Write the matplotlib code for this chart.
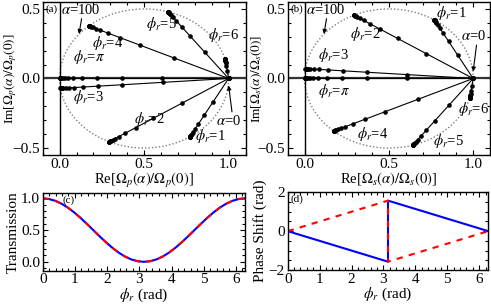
import numpy as np
import matplotlib
matplotlib.use("Agg")
import matplotlib.pyplot as plt
from matplotlib.ticker import MultipleLocator

plt.rcParams["font.family"] = ["Liberation Serif", "DejaVu Serif"]
plt.rcParams["mathtext.fontset"] = "stix"
plt.rcParams["font.size"] = 11

# phi_r values of the traced lines
phis = ["1", "2", "3", "pi", "4", "5", "6"]
# alpha = 100 end points of Omega_p(alpha)/Omega_p(0) (panel a)
end_re = [0.770, 0.292, 0.005, 0.000, 0.173, 0.642, 0.980]
end_im_p = [-0.421, -0.455, -0.071, 0.000, 0.378, 0.479, 0.140]
# panel b mirrors the imaginary part
end_im_s = [0.421, 0.455, 0.071, 0.000, -0.378, -0.479, -0.140]
# relative distance of the dots from the alpha=100 end (alpha = 0, 1, 2, ...)
dot_frac = [1.0, 0.607, 0.368, 0.223, 0.135, 0.082, 0.050, 0.030, 0.018,
            0.011, 0.007, 0.004, 0.002, 0.001, 0.0]

# panel c: transmission vs phi_r
phi_c = np.linspace(0, 2 * np.pi, 33)
trans = [1.0, 0.9904, 0.9619, 0.9157, 0.8536, 0.7778, 0.6913, 0.5975, 0.5,
         0.4025, 0.3087, 0.2222, 0.1464, 0.0843, 0.0381, 0.0096, 0.0,
         0.0096, 0.0381, 0.0843, 0.1464, 0.2222, 0.3087, 0.4025, 0.5,
         0.5975, 0.6913, 0.7778, 0.8536, 0.9157, 0.9619, 0.9904, 1.0]

# panel d: phase shift (rad)
phi_d = [0, np.pi, np.pi, 2 * np.pi]
shift_p = [0, -1.571, 1.571, 0]
shift_s = [0, 1.571, -1.571, 0]

fig = plt.figure(figsize=(4.91, 3.06), dpi=100)
ax_a = fig.add_axes([0.087, 0.4935, 0.413, 0.50])
ax_b = fig.add_axes([0.586, 0.4935, 0.412, 0.50])
ax_c = fig.add_axes([0.087, 0.1154, 0.412, 0.2527])
ax_d = fig.add_axes([0.586, 0.1176, 0.4085, 0.254])


def style(ax, xmaj, xmin, ymaj, ymin):
    ax.xaxis.set_major_locator(MultipleLocator(xmaj))
    ax.xaxis.set_minor_locator(MultipleLocator(xmin))
    ax.yaxis.set_major_locator(MultipleLocator(ymaj))
    ax.yaxis.set_minor_locator(MultipleLocator(ymin))
    ax.tick_params(which="both", direction="in", top=True, right=True,
                   width=0.8, labelsize=11, pad=2)
    ax.tick_params(which="major", length=3.5)
    ax.tick_params(which="minor", length=2)
    for s in ax.spines.values():
        s.set_linewidth(1.0)


def circle_panel(ax, end_im, letter, sub, labels):
    t = np.linspace(0, 2 * np.pi, 200)
    ax.plot(0.5 + 0.5 * np.cos(t), 0.5 * np.sin(t), ls=(0, (1, 1.5)),
            color="gray", lw=1.0)
    ax.axhline(0, color="#333333", lw=1.6)
    ax.axvline(0, color="black", lw=1.0)
    f = np.array(dot_frac)
    for xr, yi in zip(end_re, end_im):
        xs = xr + f * (1 - xr)
        ys = yi + f * (0 - yi)
        ax.plot(xs, ys, "-o", color="black", lw=0.8, ms=2.3)
    ax.set_xlim(-0.1, 1.1)
    ax.set_ylim(-0.55, 0.55)
    style(ax, 0.5, 0.1, 0.5, 0.1)
    ax.set_xlabel(r"Re[$\Omega_{%s}(\alpha)/\Omega_{%s}(0)$]" % (sub, sub),
                  labelpad=0, fontsize=10.5)
    ax.set_ylabel(r"Im[$\Omega_{%s}(\alpha)/\Omega_{%s}(0)$]" % (sub, sub),
                  fontsize=9.5)
    ax.yaxis.set_label_coords(-0.118, 0.5)
    ax.text(0.012, 0.985, letter, transform=ax.transAxes, fontsize=8,
            va="top", ha="left")
    for txt, x, y in labels:
        ax.text(x, y, txt, fontsize=10.5, ha="left", va="center")


labels_a = [(r"$\phi_r$=5", 0.51, 0.39), (r"$\phi_r$=4", 0.19, 0.255),
            (r"$\phi_r$=6", 0.88, 0.31), (r"$\phi_r$=$\pi$", 0.08, 0.155),
            (r"$\phi_r$=3", 0.08, -0.13), (r"$\phi_r$=2", 0.44, -0.29),
            (r"$\phi_r$=1", 0.80, -0.415)]
labels_b = [(r"$\phi_r$=1", 0.78, 0.47), (r"$\phi_r$=2", 0.27, 0.32),
            (r"$\phi_r$=3", 0.08, 0.17), (r"$\phi_r$=$\pi$", 0.08, -0.09),
            (r"$\phi_r$=4", 0.31, -0.40), (r"$\phi_r$=5", 0.76, -0.45),
            (r"$\phi_r$=6", 0.91, -0.22)]

circle_panel(ax_a, end_im_p, "(a)", "p", labels_a)
circle_panel(ax_b, end_im_s, "(b)", "s", labels_b)

arr = dict(arrowstyle="-|>", lw=0.8, color="black", mutation_scale=6,
           shrinkA=0, shrinkB=0)
for ax, sgn in ((ax_a, 1), (ax_b, -1)):
    ax.text(0.01, 0.49, r"$\alpha$=100", fontsize=10.5, ha="left",
            va="center")
    ax.annotate("", xy=(0.115, 0.32), xytext=(0.13, 0.43), arrowprops=arr)
    ax.text(0.925, -0.305 * sgn, r"$\alpha$=0", fontsize=10.5, ha="left",
            va="center")
    ax.annotate("", xy=(1.0, -0.05 * sgn), xytext=(1.02, -0.24 * sgn),
                arrowprops=arr)

# panel c
ax_c.plot(phi_c, trans, color="blue", lw=1.5)
ax_c.plot(phi_c, trans, color="red", lw=1.5, ls=(0, (3, 3)))
ax_c.set_xlim(0, 2 * np.pi)
ax_c.set_ylim(-0.14, 1.08)
style(ax_c, 1, 0.2, 0.5, 0.1)
ax_c.set_ylabel("Transmission", labelpad=1)
ax_c.set_xlabel(r"$\phi_r$ (rad)", labelpad=0)
ax_c.text(0.1, 0.97, "(c)", transform=ax_c.transAxes, fontsize=8,
          va="top", ha="left")

# panel d
ax_d.plot(phi_d, shift_p, color="blue", lw=1.5)
ax_d.plot(phi_d, shift_s, color="red", lw=1.5, ls=(0, (3, 3)))
ax_d.set_xlim(0, 2 * np.pi)
ax_d.set_ylim(-2, 2)
style(ax_d, 1, 0.2, 2, 0.5)
ax_d.set_ylabel("Phase Shift (rad)", labelpad=1)
ax_d.set_xlabel(r"$\phi_r$ (rad)", labelpad=0)
ax_d.text(0.015, 0.97, "(d)", transform=ax_d.transAxes, fontsize=8,
          va="top", ha="left")

fig.savefig("out.png", dpi=100)
